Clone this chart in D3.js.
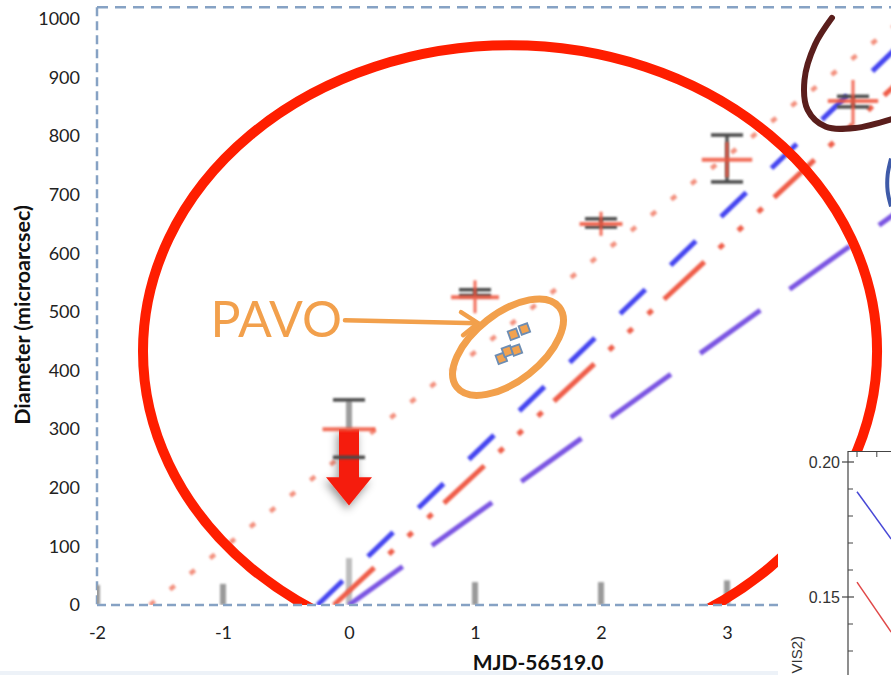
<!DOCTYPE html>
<html>
<head>
<meta charset="utf-8">
<script src="https://cdn.jsdelivr.net/npm/d3@7"></script>
<style>
  html, body { margin: 0; padding: 0; background: #fff; }
  svg { display: block; }
</style>
</head>
<body>
<svg id="chart" width="891" height="675"></svg>
<script>
// ---- Data -------------------------------------------------------------
// Observation epochs (days from MJD 56519.0) and measured diameters (microarcsec)
const epochs      = [0, 1, 2, 3, 4];
const diameters   = [300, 525, 650, 760, 860];
const diamLow     = [300, 498, 630, 730, 819];
const diamHigh    = [300, 554, 671, 790, 896];
const epochSpread = [0.21, 0.19, 0.17, 0.20, 0.20];

// Second instrument error bars (grey)
const greyLow  = [252, 528, 645, 722, 850];
const greyHigh = [350, 538, 659, 802, 868];

// Grey bars standing on the time axis
const baseEpochs  = [-2, -1, 0, 1, 2, 3];
const baseHeights = [34, 36, 80, 39, 39, 42];

// Upper limit at epoch 0 (arrow)
const limitEpoch = [0];
const limitFrom  = [300];
const limitTo    = [170];
const limitHead  = [218];

// PAVO measurements
const pavoT = [1.305, 1.392, 1.209, 1.257, 1.329];
const pavoD = [462, 471, 421, 433, 435];

// Expansion models: start (D = 0) and end points
const modelNames = ["dotted", "blue", "dashDot", "purple"];
const modelT0 = [-1.58, -0.25, -0.12, 0.0];
const modelT1 = [4.4, 4.4, 4.4, 4.4];
const modelD1 = [1000, 962, 900, 678];

// Axis ticks
const xTicks = [-2, -1, 0, 1, 2, 3];
const yTicks = [0, 100, 200, 300, 400, 500, 600, 700, 800, 900, 1000];

// Inset: squared visibility curves
const insetMajor = [0.20, 0.15];
const insetMinor = [0.19, 0.18, 0.17, 0.16, 0.14, 0.13];
const insetX     = [0.075, 0.36];
const insetBlue  = [0.189, 0.1715];
const insetRed   = [0.1555, 0.137];

// ---- Layout ----------------------------------------------------------
const svg = d3.select("#chart");
const W = 891, H = 675;
const x = d3.scaleLinear().domain([-2, 4.4]).range([97, 97 + 6.4 * 126]);
const y = d3.scaleLinear().domain([0, 1020]).range([605, 605 - 1020 * 0.586]);

const defs = svg.append("defs");
defs.append("clipPath").attr("id", "plotClip")
  .append("rect").attr("x", x(-2)).attr("y", y(1020)).attr("width", W - x(-2)).attr("height", y(0) - y(1020));
defs.append("filter").attr("id", "soft").attr("x", "-20%").attr("y", "-20%").attr("width", "140%").attr("height", "140%")
  .append("feGaussianBlur").attr("stdDeviation", 0.8);
const shadow = defs.append("filter").attr("id", "shadow").attr("x", "-60%").attr("y", "-30%").attr("width", "220%").attr("height", "170%");
shadow.append("feDropShadow").attr("dx", -2).attr("dy", 4).attr("stdDeviation", 4)
  .attr("flood-color", "#000").attr("flood-opacity", 0.4);

svg.append("rect").attr("width", W).attr("height", H).attr("fill", "#fff");

// ---- Frame (dashed) --------------------------------------------------
const frameColor = "#86a2c4";
svg.append("line").attr("x1", x(-2)).attr("x2", x(-2)).attr("y1", y(1020)).attr("y2", y(0))
  .attr("stroke", frameColor).attr("stroke-width", 2.5).attr("stroke-dasharray", "9,5");
svg.append("line").attr("x1", x(-2)).attr("x2", W).attr("y1", y(1020)).attr("y2", y(1020))
  .attr("stroke", frameColor).attr("stroke-width", 2.5).attr("stroke-dasharray", "11,7");

// ---- Axes -------------------------------------------------------------
const tickFont = "Lato, sans-serif";
const yAxis = svg.append("g").attr("transform", `translate(${x(-2)},0)`)
  .call(d3.axisLeft(y).tickValues(yTicks).tickSize(0).tickPadding(17).tickFormat(d3.format("d")));
yAxis.select(".domain").remove();
yAxis.selectAll("text").attr("font-family", tickFont).attr("font-size", 18).attr("fill", "#222");

const xAxis = svg.append("g").attr("transform", `translate(0,${y(0)})`)
  .call(d3.axisBottom(x).tickValues(xTicks).tickSize(0).tickPadding(21).tickFormat(d => String(d)));
xAxis.select(".domain").remove();
xAxis.selectAll("text").attr("font-family", tickFont).attr("font-size", 18).attr("fill", "#222");

svg.append("text").attr("transform", `translate(30,315) rotate(-90)`)
  .attr("text-anchor", "middle").attr("font-family", tickFont).attr("font-weight", 700)
  .attr("font-size", 21.5).attr("fill", "#111").text("Diameter (microarcsec)");
svg.append("text").attr("x", 538).attr("y", 670).attr("text-anchor", "middle")
  .attr("font-family", tickFont).attr("font-weight", 700).attr("font-size", 21)
  .attr("fill", "#111").text("MJD-56519.0");

// ---- Plot content ----------------------------------------------------
const plot = svg.append("g").attr("clip-path", "url(#plotClip)");

// grey bars on the axis
plot.selectAll("rect.base").data(baseEpochs).join("rect").attr("class", "base")
  .attr("x", d => x(d) - 3).attr("width", 6)
  .attr("y", (d, i) => y(baseHeights[i])).attr("height", (d, i) => y(0) - y(baseHeights[i]))
  .attr("fill", d => d === 0 ? "#bdbdbd" : "#9a9a9a").attr("filter", "url(#soft)");

// model lines
const modelStyle = {
  dotted:  { color: "#f3907e", width: 4.5, dash: "6,19.4", offset: 0 },
  blue:    { color: "#4444f0", width: 5,   dash: "35,35", offset: 0 },
  dashDot: { color: "#ef5d48", width: 5,   dash: "55,20,6,20,6,21,6,16", offset: 0 },
  purple:  { color: "#7a55e2", width: 5,   dash: "74,36", offset: 8 }
};
const lineGen = d3.line().x(d => x(d[0])).y(d => y(d[1]));
modelNames.forEach((name, i) => {
  const s = modelStyle[name];
  plot.append("path")
    .attr("d", lineGen([[modelT0[i], 0], [modelT1[i], modelD1[i]]]))
    .attr("fill", "none").attr("stroke", s.color).attr("stroke-width", s.width)
    .attr("stroke-dasharray", s.dash).attr("stroke-dashoffset", s.offset)
    .attr("filter", "url(#soft)");
});

// upper-limit arrow at epoch 0
limitEpoch.forEach((t, i) => {
  const cx = x(t), y0 = y(limitFrom[i]), yh = y(limitHead[i]), yt = y(limitTo[i]);
  const pts = [[cx - 10, y0], [cx + 10, y0], [cx + 10, yh], [cx + 23, yh], [cx, yt], [cx - 23, yh], [cx - 10, yh]];
  plot.append("polygon").attr("points", pts.map(p => p.join(",")).join(" "))
    .attr("fill", "#f51d0a").attr("filter", "url(#shadow)");
});

// grey error bars
const greyG = plot.append("g").attr("filter", "url(#soft)");
epochs.forEach((t, i) => {
  const cx = x(t);
  greyG.append("line").attr("x1", cx).attr("x2", cx).attr("y1", y(greyHigh[i]))
    .attr("y2", t === 0 ? y(diameters[i]) : y(greyLow[i]))
    .attr("stroke", t === 0 ? "#9d9d9d" : "#555").attr("stroke-width", t === 0 ? 6 : 3.5);
  [greyLow[i], greyHigh[i]].forEach(v => {
    greyG.append("line").attr("x1", cx - 16).attr("x2", cx + 16).attr("y1", y(v)).attr("y2", y(v))
      .attr("stroke", "#4a4a4a").attr("stroke-width", 3.5);
  });
});

// red crosses
const crossG = plot.append("g").attr("filter", "url(#soft)").attr("opacity", 0.85);
epochs.forEach((t, i) => {
  crossG.append("line").attr("x1", x(t - epochSpread[i])).attr("x2", x(t + epochSpread[i]))
    .attr("y1", y(diameters[i])).attr("y2", y(diameters[i]))
    .attr("stroke", "#f0553c").attr("stroke-width", 4);
  if (diamHigh[i] > diamLow[i]) {
    crossG.append("line").attr("x1", x(t)).attr("x2", x(t))
      .attr("y1", y(diamHigh[i])).attr("y2", y(diamLow[i]))
      .attr("stroke", "#f0553c").attr("stroke-width", 3);
  }
});

// PAVO points
plot.selectAll("rect.pavo").data(pavoT).join("rect").attr("class", "pavo")
  .attr("x", d => x(d) - 4.5).attr("y", (d, i) => y(pavoD[i]) - 4.5)
  .attr("width", 9).attr("height", 9)
  .attr("transform", (d, i) => `rotate(-20,${x(d)},${y(pavoD[i])})`)
  .attr("fill", "#f2a24f").attr("stroke", "#6d8db3").attr("stroke-width", 1.8);

// ---- Annotations ----------------------------------------------------
const annot = svg.append("g");

// large red ellipse (clipped by the time axis)
const bigEll = { t: 1.278, d: 433, rt: 2.913, rd: 522 };
plot.append("ellipse")
  .attr("cx", x(bigEll.t)).attr("cy", y(bigEll.d))
  .attr("rx", x(bigEll.t + bigEll.rt) - x(bigEll.t)).attr("ry", y(bigEll.d) - y(bigEll.d + bigEll.rd))
  .attr("fill", "none").attr("stroke", "#ff1e00").attr("stroke-width", 10);

// orange loop around the PAVO points
const pavoEll = { t: 1.262, d: 440 };
annot.append("ellipse")
  .attr("cx", 0).attr("cy", 0).attr("rx", 65).attr("ry", 34)
  .attr("transform", `translate(${x(pavoEll.t)},${y(pavoEll.d)}) rotate(-38)`)
  .attr("fill", "none").attr("stroke", "#f2a04c").attr("stroke-width", 7);

// PAVO label and arrow
const orange = "#f2a04c";
annot.append("text").attr("x", x(-1.1)).attr("y", y(458))
  .attr("font-family", "Lato, sans-serif").attr("font-size", 50).attr("fill", orange).text("PAVO");
const a0 = [x(-0.032), y(486)], a1 = [x(1.024), y(481)];
annot.append("line").attr("x1", a0[0]).attr("y1", a0[1]).attr("x2", a1[0]).attr("y2", a1[1])
  .attr("stroke", orange).attr("stroke-width", 4.5).attr("stroke-linecap", "round");
annot.append("path")
  .attr("d", `M${a1[0] - 17},${a1[1] - 11} L${a1[0]},${a1[1]} L${a1[0] - 15},${a1[1] + 12}`)
  .attr("fill", "none").attr("stroke", orange).attr("stroke-width", 4.5)
  .attr("stroke-linecap", "round").attr("stroke-linejoin", "round");

// brown loop around the last epoch
const loopT = [3.833, 3.698, 3.615, 3.64, 3.785, 4.016, 4.333];
const loopD = [1002, 956, 896, 845, 816, 814, 831];
annot.append("path")
  .attr("d", d3.line().curve(d3.curveCatmullRom).x(d => x(d[0])).y(d => y(d[1]))(loopT.map((t, i) => [t, loopD[i]])))
  .attr("fill", "none").attr("stroke", "#5a1e1c").attr("stroke-width", 6).attr("stroke-linecap", "round");

// blue loop edge at the right margin
const arcT = [4.302, 4.275, 4.275, 4.302];
const arcD = [762, 734, 706, 680];
annot.append("path")
  .attr("d", d3.line().curve(d3.curveCatmullRom).x(d => x(d[0])).y(d => y(d[1]))(arcT.map((t, i) => [t, arcD[i]])))
  .attr("fill", "none").attr("stroke", "#3e5aa8").attr("stroke-width", 4);

// time axis (dashed), drawn over the plot content
svg.append("line").attr("x1", x(-2)).attr("x2", W).attr("y1", y(0)).attr("y2", y(0))
  .attr("stroke", frameColor).attr("stroke-width", 2.5).attr("stroke-dasharray", "9,5");

// faint strip along the bottom edge
svg.append("rect").attr("x", 0).attr("y", 671).attr("width", 778).attr("height", 4).attr("fill", "#edf2f8");

// ---- Inset: squared visibility -------------------------------------
const inset = svg.append("g");
inset.append("rect").attr("x", 778).attr("y", 451).attr("width", W - 778).attr("height", H - 451).attr("fill", "#fff");
const iy = d3.scaleLinear().domain([0.13, 0.20]).range([651, 462]);
const ix = d3.scaleLinear().domain([0, 1]).range([848, 968]);
inset.append("line").attr("x1", 848).attr("x2", 848).attr("y1", 451).attr("y2", H).attr("stroke", "#444").attr("stroke-width", 1.2);
inset.append("line").attr("x1", 848).attr("x2", W).attr("y1", 451.5).attr("y2", 451.5).attr("stroke", "#444").attr("stroke-width", 1.2);
[0.075, 0.24].forEach(v => inset.append("line").attr("x1", ix(v)).attr("x2", ix(v)).attr("y1", 451).attr("y2", 457)
  .attr("stroke", "#444").attr("stroke-width", 1));
insetMajor.forEach(v => {
  inset.append("line").attr("x1", 842).attr("x2", 854).attr("y1", iy(v)).attr("y2", iy(v)).attr("stroke", "#444").attr("stroke-width", 1.2);
  inset.append("text").attr("x", 840).attr("y", iy(v)).attr("dy", "0.35em").attr("text-anchor", "end")
    .attr("font-family", "Liberation Sans, Arial, sans-serif").attr("font-size", 16).attr("fill", "#333")
    .text(v.toFixed(2));
});
insetMinor.forEach(v => inset.append("line").attr("x1", 848).attr("x2", 853).attr("y1", iy(v)).attr("y2", iy(v))
  .attr("stroke", "#444").attr("stroke-width", 1));
inset.append("text").attr("transform", "translate(802,636) rotate(-90)").attr("text-anchor", "end")
  .attr("font-family", "Liberation Sans, Arial, sans-serif").attr("font-size", 15).attr("fill", "#333").text("VIS2)");
const iline = d3.line().x(d => ix(d[0])).y(d => iy(d[1]));
inset.append("path").attr("d", iline(insetX.map((v, i) => [v, insetBlue[i]])))
  .attr("fill", "none").attr("stroke", "#4848d6").attr("stroke-width", 1.5);
inset.append("path").attr("d", iline(insetX.map((v, i) => [v, insetRed[i]])))
  .attr("fill", "none").attr("stroke", "#e04848").attr("stroke-width", 1.5);
</script>
</body>
</html>
